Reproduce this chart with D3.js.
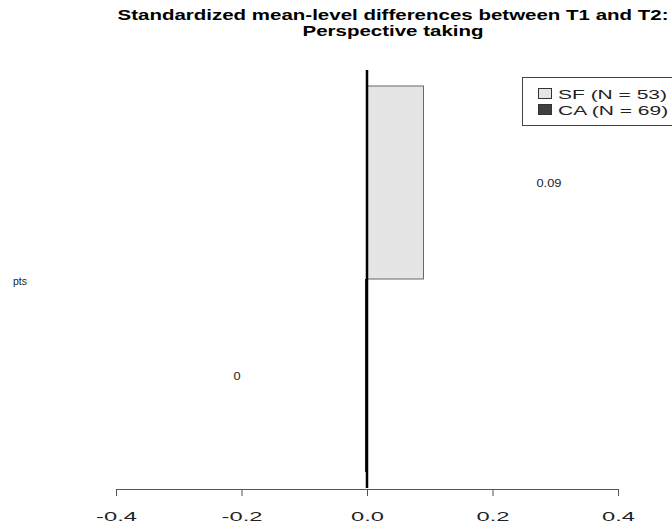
<!DOCTYPE html>
<html>
<head>
<meta charset="utf-8">
<script src="https://cdn.jsdelivr.net/npm/d3@7"></script>
<style>
  body { margin: 0; background: #fff; }
  svg { display: block; font-family: "Liberation Sans", Arial, sans-serif; }
</style>
</head>
<body>
<svg id="chart" width="672" height="525"></svg>
<script>
// Data
const variable = "pts";
const groups = ["SF", "CA"];
const groupLabels = ["SF (N = 53)", "CA (N = 69)"];
const values = [0.09, 0];
const valueLabels = ["0.09", "0"];
const fills = ["#e5e5e5", "#404040"];
const xTicks = [-0.4, -0.2, 0.0, 0.2, 0.4];
const titleLines = ["Standardized mean-level differences between T1 and T2:", "Perspective taking"];

const svg = d3.select("#chart");

const x = d3.scaleLinear().domain([-0.4, 0.4]).range([116, 618]);
const y = d3.scaleBand().domain(groups).range([86, 472]).paddingInner(0).paddingOuter(0);

// Widen a text selection so that its reference element reaches a given width
function widen(sel, refNode, targetWidth) {
  const k = targetWidth / refNode.getComputedTextLength();
  sel.each(function () {
    const w = this.getComputedTextLength();
    d3.select(this).attr("textLength", w * k).attr("lengthAdjust", "spacingAndGlyphs");
  });
}

// Title
const title = svg.append("g").selectAll("text").data(titleLines).join("text")
  .attr("x", 393)
  .attr("y", (d, i) => 20 + i * 16)
  .attr("text-anchor", "middle")
  .attr("font-weight", "bold")
  .attr("font-size", 15)
  .attr("fill", "#000")
  .text(d => d);
widen(title, title.node(), 551);

// Bars
svg.append("g").selectAll("rect").data(groups).join("rect")
  .attr("x", (d, i) => Math.min(x(0), x(values[i])))
  .attr("y", d => y(d))
  .attr("width", (d, i) => Math.abs(x(values[i]) - x(0)))
  .attr("height", y.bandwidth())
  .attr("fill", (d, i) => fills[i])
  .attr("stroke", "#666")
  .attr("stroke-width", 1);

// Zero-width bar drawn as its outline
svg.append("g").selectAll("line").data(groups.filter((d, i) => values[i] === 0)).join("line")
  .attr("x1", x(0) - 1).attr("x2", x(0) - 1)
  .attr("y1", d => y(d)).attr("y2", d => y(d) + y.bandwidth())
  .attr("stroke", "#222")
  .attr("stroke-width", 2);

// Reference line at zero
svg.append("line")
  .attr("x1", x(0)).attr("x2", x(0))
  .attr("y1", 70).attr("y2", 488)
  .attr("stroke", "#000")
  .attr("stroke-width", 2.5);

// Value labels
const vl = svg.append("g").selectAll("text").data(groups).join("text")
  .attr("x", (d, i) => x(values[i] > 0 ? values[i] + 0.2 : values[i] - 0.207))
  .attr("y", d => y(d) + y.bandwidth() / 2 + 4)
  .attr("text-anchor", "middle")
  .attr("font-size", 10.5)
  .attr("fill", "#222")
  .text((d, i) => valueLabels[i]);

// Variable label
const vlab = svg.append("text")
  .attr("x", 13)
  .attr("y", 285)
  .attr("font-size", 10.5)
  .attr("fill", "#222")
  .text(variable);
widen(vl.merge(vlab), vl.node(), 25);

// X axis
const axis = d3.axisBottom(x)
  .tickValues(xTicks)
  .tickFormat(d3.format(".1f"))
  .tickSize(7)
  .tickSizeOuter(0);
const gx = svg.append("g").attr("transform", "translate(0,489)").call(axis);
gx.select(".domain").attr("stroke", "#555");
gx.selectAll(".tick line").attr("stroke", "#555");
const tl = gx.selectAll(".tick text")
  .attr("font-size", 13)
  .attr("font-family", "Liberation Sans, Arial, sans-serif")
  .attr("fill", "#222")
  .attr("y", 32)
  .attr("dy", 0)
  .text(d => d3.format(".1f")(d).replace("−", "-"));
widen(tl, tl.nodes()[2], 33);

// Legend
const lg = svg.append("g");
lg.append("rect")
  .attr("x", 522.5).attr("y", 77.5)
  .attr("width", 200).attr("height", 48)
  .attr("fill", "#fff")
  .attr("stroke", "#444");
const items = lg.selectAll("g").data(groupLabels).join("g")
  .attr("transform", (d, i) => `translate(538,${88 + i * 16})`);
items.append("rect")
  .attr("x", 0.5).attr("y", 0.5)
  .attr("width", 13).attr("height", 10)
  .attr("fill", (d, i) => fills[i])
  .attr("stroke", "#333");
const lt = items.append("text")
  .attr("x", 20).attr("y", 10.5)
  .attr("font-size", 13)
  .attr("fill", "#222")
  .text(d => d);
widen(lt, lt.node(), 109);
</script>
</body>
</html>
